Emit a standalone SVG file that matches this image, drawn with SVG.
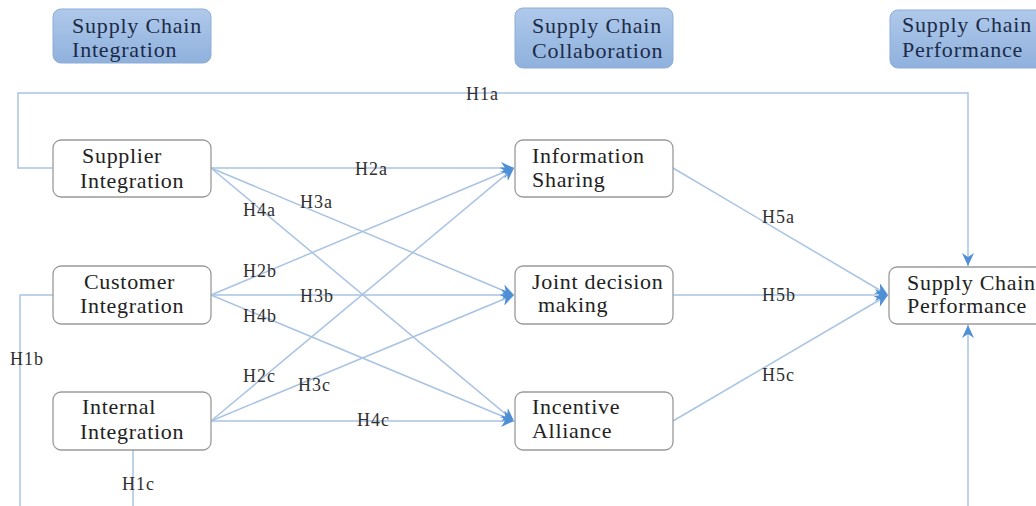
<svg xmlns="http://www.w3.org/2000/svg" width="1036" height="506" viewBox="0 0 1036 506">
<defs>
<linearGradient id="hdr" x1="0" y1="0" x2="0" y2="1">
<stop offset="0" stop-color="#afc9ea"/>
<stop offset="1" stop-color="#8fb1dd"/>
</linearGradient>
<marker id="arr" markerUnits="userSpaceOnUse" markerWidth="14" markerHeight="12" refX="13" refY="6" orient="auto" viewBox="0 0 14 12">
<path d="M0,0 L13,6 L0,12 L4,6 z" fill="#4f8fd6"/>
</marker>
</defs>
<style>
.hdr{fill:url(#hdr);stroke:#8eadd8;stroke-width:1}
.hdr-t{font-family:"Liberation Serif","Times New Roman",serif;font-size:22px;fill:#1c2b48;letter-spacing:0.8px}
.node{fill:#ffffff;stroke:#9a9a9a;stroke-width:1.3}
.node-t{font-family:"Liberation Serif","Times New Roman",serif;font-size:22px;fill:#222222;letter-spacing:0.7px}
.edge{fill:none;stroke:#a9c3e3;stroke-width:1.5}
.lbl{font-family:"Liberation Serif","Times New Roman",serif;font-size:18px;fill:#303030;letter-spacing:1px}
</style>
<rect width="1036" height="506" fill="#ffffff"/>

<g id="connectors">
<path class="edge" d="M53,168 H18 V93 H968 V266" marker-end="url(#arr)"/>
<path class="edge" d="M53,295 H20 V506"/>
<path class="edge" d="M133,450 V506"/>
<path class="edge" d="M968,506 V325" marker-end="url(#arr)"/>
<line class="edge" x1="211" y1="168" x2="514" y2="168" marker-end="url(#arr)"/>
<line class="edge" x1="211" y1="168" x2="514" y2="295" marker-end="url(#arr)"/>
<line class="edge" x1="211" y1="168" x2="514" y2="421" marker-end="url(#arr)"/>
<line class="edge" x1="211" y1="295" x2="514" y2="168" marker-end="url(#arr)"/>
<line class="edge" x1="211" y1="295" x2="514" y2="295" marker-end="url(#arr)"/>
<line class="edge" x1="211" y1="295" x2="514" y2="421" marker-end="url(#arr)"/>
<line class="edge" x1="211" y1="421" x2="514" y2="168" marker-end="url(#arr)"/>
<line class="edge" x1="211" y1="421" x2="514" y2="295" marker-end="url(#arr)"/>
<line class="edge" x1="211" y1="421" x2="514" y2="421" marker-end="url(#arr)"/>
<line class="edge" x1="673" y1="168" x2="888" y2="295" marker-end="url(#arr)"/>
<line class="edge" x1="673" y1="295" x2="888" y2="295" marker-end="url(#arr)"/>
<line class="edge" x1="673" y1="421" x2="888" y2="295" marker-end="url(#arr)"/>
</g>

<g id="labels">
<text class="lbl" x="466" y="100">H1a</text>
<text class="lbl" x="355" y="175">H2a</text>
<text class="lbl" x="300" y="208">H3a</text>
<text class="lbl" x="243" y="216">H4a</text>
<text class="lbl" x="243" y="277">H2b</text>
<text class="lbl" x="300" y="302">H3b</text>
<text class="lbl" x="243" y="322">H4b</text>
<text class="lbl" x="10" y="365">H1b</text>
<text class="lbl" x="243" y="382">H2c</text>
<text class="lbl" x="298" y="391">H3c</text>
<text class="lbl" x="357" y="426">H4c</text>
<text class="lbl" x="122" y="490">H1c</text>
<text class="lbl" x="762" y="223">H5a</text>
<text class="lbl" x="762" y="301">H5b</text>
<text class="lbl" x="762" y="381">H5c</text>
</g>

<g id="hdr-integration">
<rect class="hdr" x="53" y="9" width="158" height="54" rx="8"/>
<text class="hdr-t" x="72" y="33">Supply Chain</text>
<text class="hdr-t" x="72" y="57">Integration</text>
</g>
<g id="hdr-collaboration">
<rect class="hdr" x="515" y="8" width="158" height="60" rx="8"/>
<text class="hdr-t" x="532" y="33">Supply Chain</text>
<text class="hdr-t" x="532" y="58">Collaboration</text>
</g>
<g id="hdr-performance">
<rect class="hdr" x="890" y="10" width="160" height="58" rx="8"/>
<text class="hdr-t" x="902" y="32">Supply Chain</text>
<text class="hdr-t" x="902" y="57">Performance</text>
</g>

<g id="supplier-integration">
<rect class="node" x="53" y="140" width="158" height="57" rx="8"/>
<text class="node-t" x="82" y="163">Supplier</text>
<text class="node-t" x="80" y="188">Integration</text>
</g>
<g id="customer-integration">
<rect class="node" x="53" y="266" width="158" height="58" rx="8"/>
<text class="node-t" x="84" y="289">Customer</text>
<text class="node-t" x="80" y="313">Integration</text>
</g>
<g id="internal-integration">
<rect class="node" x="53" y="392" width="158" height="58" rx="8"/>
<text class="node-t" x="82" y="414">Internal</text>
<text class="node-t" x="80" y="439">Integration</text>
</g>
<g id="information-sharing">
<rect class="node" x="515" y="140" width="158" height="57" rx="8"/>
<text class="node-t" x="532" y="163">Information</text>
<text class="node-t" x="532" y="187">Sharing</text>
</g>
<g id="joint-decision-making">
<rect class="node" x="515" y="266" width="158" height="58" rx="8"/>
<text class="node-t" x="532" y="289">Joint decision</text>
<text class="node-t" x="538" y="312">making</text>
</g>
<g id="incentive-alliance">
<rect class="node" x="515" y="392" width="158" height="58" rx="8"/>
<text class="node-t" x="532" y="414">Incentive</text>
<text class="node-t" x="532" y="438">Alliance</text>
</g>
<g id="supply-chain-performance">
<rect class="node" x="889" y="267" width="160" height="57" rx="8"/>
<text class="node-t" x="907" y="290">Supply Chain</text>
<text class="node-t" x="907" y="313">Performance</text>
</g>
</svg>
